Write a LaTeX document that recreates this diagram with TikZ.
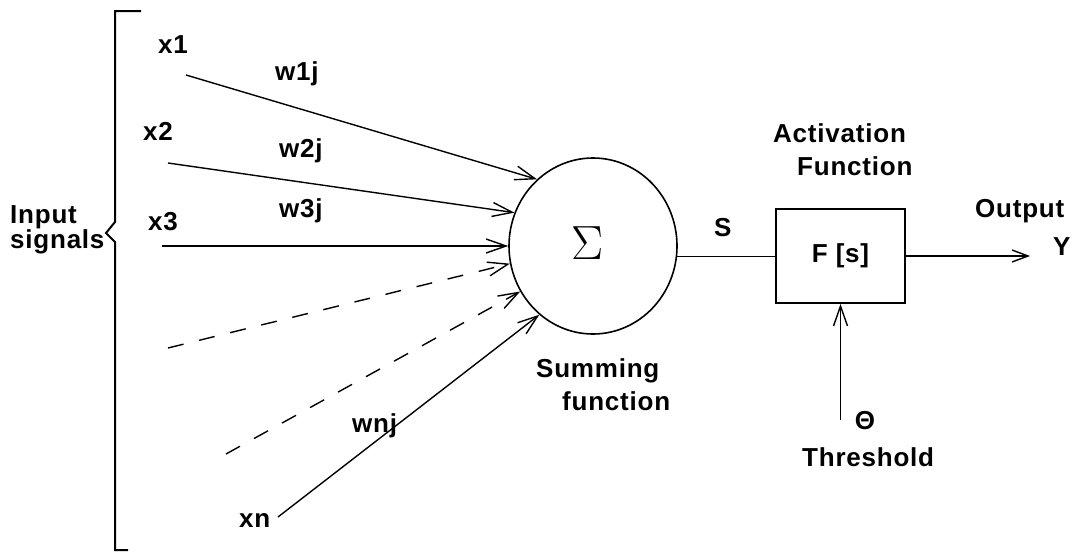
\documentclass[tikz,border=0pt]{standalone}
\usepackage{fontspec}
\setmainfont{Liberation Sans}[LetterSpace=3]
\newfontfamily\lmfont{Latin Modern Roman}
\usetikzlibrary{arrows.meta,shapes.geometric}
\begin{document}
\begin{tikzpicture}[x=1pt,y=-1pt,
  lbl/.style={anchor=base west,inner sep=0pt,font=\bfseries\fontsize{26}{29}\selectfont},
  wire/.style={line width=1.4pt},
  arr/.style={wire,-{Straight Barb[length=20pt,width=14pt]}},
  dashwire/.style={dash pattern=on 16pt off 16pt},
  outarr/.style={wire,-{Straight Barb[length=16pt,width=12pt]}}]
\fill[white] (0,0) rectangle (1083,554);
\useasboundingbox (0,0) rectangle (1083,554);
% bracket
\draw[line width=2pt] (141,11) -- (115,11) -- (115,222) -- (106,233) -- (115,242) -- (115,550) -- (128,550);
% summing node
\node[draw,ellipse,line width=1.6pt,minimum width=168pt,minimum height=176pt,inner sep=0pt] (sum) at (593,246) {};
\node[inner sep=0pt] (sigma) at (588,243) {\lmfont\fontsize{48}{48}\selectfont Σ};
% activation box
\node[draw,line width=1.8pt,minimum width=129pt,minimum height=94pt,inner sep=0pt,
      font=\bfseries\fontsize{26}{29}\selectfont] (fbox) at (840.5,256) {F [s]};
% input start points
\coordinate (s1) at (186,75);
\coordinate (s2) at (168,163);
\coordinate (s3) at (162,246);
\coordinate (s4) at (168,348);
\coordinate (s5) at (226,454);
\coordinate (s6) at (278,517);
\coordinate (yend) at (1030,256);
\coordinate (thstart) at (840.5,420);
% labels
\node[lbl] (lx1) at (158,53) {x1};
\node[lbl] (lw1) at (275,80) {w1j};
\node[lbl] (lx2) at (143,140) {x2};
\node[lbl] (lw2) at (279,157) {w2j};
\node[lbl] (lw3) at (279,217) {w3j};
\node[lbl] (lx3) at (148,230) {x3};
\node[lbl] (lin) at (10,223) {Input};
\node[lbl] (lsig) at (10,248) {signals};
\node[lbl] (lxn) at (239,527) {xn};
\node[lbl] (lwn) at (352,432) {wnj};
\node[lbl] (lsum1) at (536,377) {Summing};
\node[lbl] (lsum2) at (562,410) {function};
\node[lbl] (ls) at (714,236) {S};
\node[lbl] (lact1) at (773,142) {Activation};
\node[lbl] (lact2) at (797,175) {Function};
\node[lbl] (lout) at (975,217) {Output};
\node[lbl] (ly) at (1053,255) {Y};
\node[lbl,anchor=center] (lth) at (865,421) {Θ};
\node[lbl] (lthr) at (802,466) {Threshold};
% connectors
\draw[arr] (s1) -- (sum.130);
\draw[arr] (s2) -- (sum.157);
\draw[arr] (s3) -- (sum.180);
\draw[arr,dashwire] (s4) -- (sum.192);
\draw[arr,dashwire] (s5) -- (sum.212);
\draw[arr] (s6) -- (sum.232);
\draw[wire] (sum.-7) -- (sum.-7 -| fbox.west);
\draw[outarr] (fbox.east) -- (yend);
\draw[arr] (thstart) -- (fbox.south);
\end{tikzpicture}
\end{document}
